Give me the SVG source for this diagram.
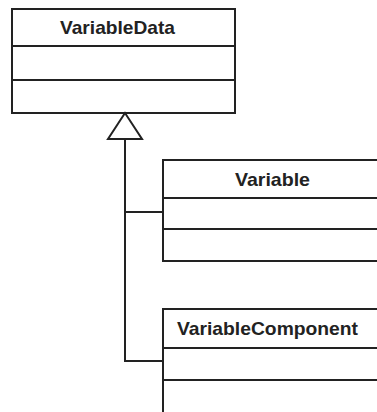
<svg xmlns="http://www.w3.org/2000/svg" width="377" height="412" viewBox="0 0 377 412">
<style>
.box{fill:#fff;stroke:#222;stroke-width:2}
.ln{stroke:#222;stroke-width:2;fill:none}
.t{font-family:"Liberation Sans",Arial,sans-serif;font-weight:bold;font-size:19px;fill:#222}
</style>
<rect width="377" height="412" fill="#fff"/>
<g id="VariableData">
<rect class="box" x="12" y="9" width="223" height="104"/>
<line class="ln" x1="12" y1="46" x2="235" y2="46"/>
<line class="ln" x1="12" y1="80" x2="235" y2="80"/>
<text class="t" x="60" y="34" textLength="115" lengthAdjust="spacingAndGlyphs">VariableData</text>
</g>
<g id="Variable">
<path class="ln" d="M380,160 H163 V261 H380"/>
<line class="ln" x1="163" y1="198" x2="380" y2="198"/>
<line class="ln" x1="163" y1="229" x2="380" y2="229"/>
<text class="t" x="235" y="186" textLength="75" lengthAdjust="spacingAndGlyphs">Variable</text>
</g>
<g id="VariableComponent">
<path class="ln" d="M380,309 H163 V414"/>
<line class="ln" x1="163" y1="348" x2="380" y2="348"/>
<line class="ln" x1="163" y1="380" x2="380" y2="380"/>
<text class="t" x="177" y="335" textLength="181" lengthAdjust="spacingAndGlyphs">VariableComponent</text>
</g>
<g id="connectors">
<path class="ln" d="M125,139 V361 H163"/>
<path class="ln" d="M125,212 H163"/>
<polygon points="125,113 108,139 142,139" fill="#fff" stroke="#222" stroke-width="2" stroke-linejoin="miter"/>
</g>
</svg>
